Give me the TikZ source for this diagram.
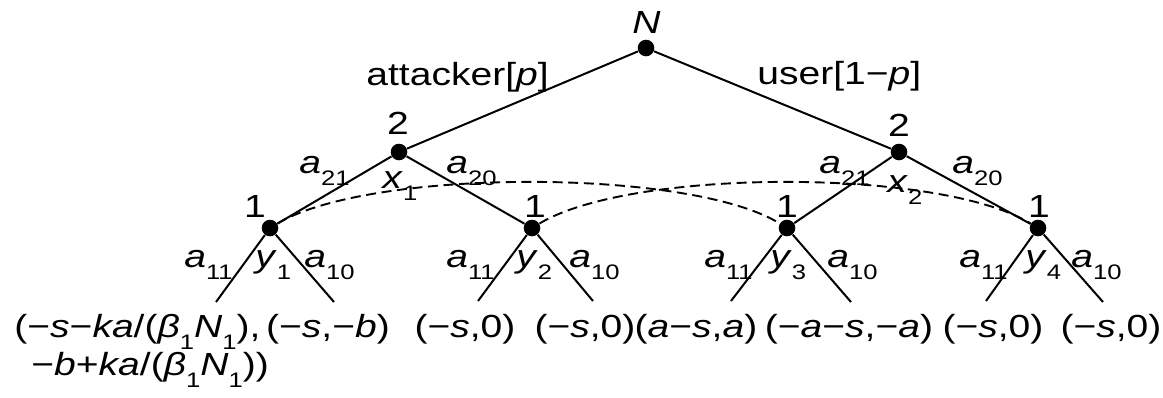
\documentclass[tikz,border=0pt]{standalone}
\usepackage{fontspec}
\setmainfont{Liberation Sans}[FakeStretch=1.22]
\newcommand\sbs[1]{\raisebox{-6pt}{\fontsize{10.5}{11}\selectfont #1}}
\newcommand\mi[1]{\textit{#1}}
\begin{document}
\begin{tikzpicture}[x=0.5pt,y=-0.5pt,
  every node/.style={inner sep=0pt, font=\fontsize{16}{19}\selectfont},
  dot/.style={circle, fill=black, minimum size=8.3pt, inner sep=0pt},
  edge/.style={line width=1pt},
  info/.style={line width=0.95pt, dash pattern=on 5pt off 2.8pt},
  lbl/.style={anchor=base west},
  clbl/.style={anchor=base}]
\useasboundingbox (0,0) rectangle (1163,397);
% decision nodes
\node[dot] (N) at (646,48) {};
\node[dot] (A) at (399,152) {};
\node[dot] (U) at (899,152) {};
\node[dot] (n1) at (270,228) {};
\node[dot] (n2) at (532,228) {};
\node[dot] (n3) at (787,228) {};
\node[dot] (n4) at (1038,228) {};
% leaf ends
\coordinate (l1a) at (216,302); \coordinate (l1b) at (334,302);
\coordinate (l2a) at (478,301); \coordinate (l2b) at (593,301);
\coordinate (l3a) at (731,301); \coordinate (l3b) at (851,302);
\coordinate (l4a) at (986,301); \coordinate (l4b) at (1103,302);
% edges
\draw[edge] (N) -- (A);
\draw[edge] (N) -- (U);
\draw[edge] (A) -- (n1);
\draw[edge] (A) -- (n2);
\draw[edge] (U) -- (n3);
\draw[edge] (U) -- (n4);
\draw[edge] (n1) -- (l1a); \draw[edge] (n1) -- (l1b);
\draw[edge] (n2) -- (l2a); \draw[edge] (n2) -- (l2b);
\draw[edge] (n3) -- (l3a); \draw[edge] (n3) -- (l3b);
\draw[edge] (n4) -- (l4a); \draw[edge] (n4) -- (l4b);
% information sets
\draw[info] (n1) .. controls (370,168) and (690,168) .. (n3);
\draw[info] (n2) .. controls (632,168) and (940,168) .. (n4);
% top labels
\node[lbl] (tN) at (632,33) {\mi{N}};
\node[lbl] (tatt) at (366,85) {attacker[\mi{p}]};
\node[lbl] (tuser) at (757,84) {user[1−\mi{p}]};
\node[clbl] (t2a) at (398,134) {2};
\node[clbl] (t2u) at (899,136) {2};
% level-2 labels
\node[lbl] (ta21) at (299,173) {\mi{a}\sbs{21}};
\node[lbl] (ta20) at (446,173) {\mi{a}\sbs{20}};
\node[lbl] (tx1) at (382,188) {\mi{x}\sbs{1}};
\node[lbl] (tb21) at (819,173) {\mi{a}\sbs{21}};
\node[lbl] (tb20) at (952,173) {\mi{a}\sbs{20}};
\node[lbl] (tx2) at (887,192) {\mi{x}\sbs{2}};
% player 1 labels
\node[clbl] (t11) at (255,217) {1};
\node[clbl] (t12) at (535,217) {1};
\node[clbl] (t13) at (787,217) {1};
\node[clbl] (t14) at (1039,217) {1};
% leaf labels
\node[lbl] (c1a) at (184,267) {\mi{a}\sbs{11}};
\node[lbl] (c1y) at (255,267) {\mi{y}\sbs{1}};
\node[lbl] (c1b) at (304,267) {\mi{a}\sbs{10}};
\node[lbl] (c2a) at (446,267) {\mi{a}\sbs{11}};
\node[lbl] (c2y) at (516,267) {\mi{y}\sbs{2}};
\node[lbl] (c2b) at (569,267) {\mi{a}\sbs{10}};
\node[lbl] (c3a) at (704,267) {\mi{a}\sbs{11}};
\node[lbl] (c3y) at (770,267) {\mi{y}\sbs{3}};
\node[lbl] (c3b) at (827,267) {\mi{a}\sbs{10}};
\node[lbl] (c4a) at (959,267) {\mi{a}\sbs{11}};
\node[lbl] (c4y) at (1025,267) {\mi{y}\sbs{4}};
\node[lbl] (c4b) at (1071,267) {\mi{a}\sbs{10}};
% payoffs
\node[lbl] (p1a) at (14,337) {(−\mi{s}−\mi{ka}/(\mi{β}\sbs{1}\mi{N}\sbs{1}),};
\node[lbl] (p1b) at (31,375) {−\mi{b}+\mi{ka}/(\mi{β}\sbs{1}\mi{N}\sbs{1}))};
\node[clbl] (p2) at (328,337) {(−\mi{s},−\mi{b})};
\node[clbl] (p3) at (465,337) {(−\mi{s},0)};
\node[clbl] (p4) at (585,337) {(−\mi{s},0)};
\node[clbl] (p5) at (696,337) {(\mi{a}−\mi{s},\mi{a})};
\node[clbl] (p6) at (849,337) {(−\mi{a}−\mi{s},−\mi{a})};
\node[clbl] (p7) at (993,337) {(−\mi{s},0)};
\node[clbl] (p8) at (1111,337) {(−\mi{s},0)};
\end{tikzpicture}
\end{document}
